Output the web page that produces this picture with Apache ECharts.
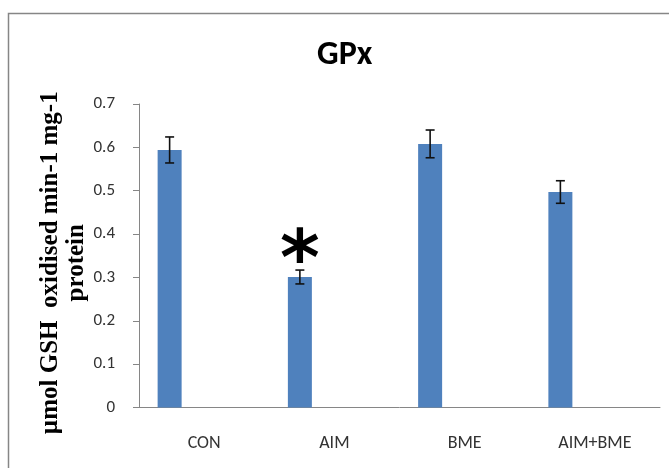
<!DOCTYPE html>
<html>
<head>
<meta charset="utf-8">
<script src="https://cdn.jsdelivr.net/npm/echarts@6/dist/echarts.min.js"></script>
<style>html,body{margin:0;padding:0;background:#fff;}#c{width:669px;height:468px;}</style>
</head>
<body>
<div id="c"></div>
<script>
const categories = ['CON', 'AIM', 'BME', 'AIM+BME'];
const means = [0.594, 0.301, 0.608, 0.497];
const errors = [0.030, 0.016, 0.032, 0.026];
const yTicks = [0, 0.1, 0.2, 0.3, 0.4, 0.5, 0.6, 0.7];
const starCategory = 'AIM';

const BAR_W = 24;
const GAP_PX = 45;
const OFFSET = -(BAR_W + GAP_PX) / 2;
const LABEL_FONT = 'Carlito, "Liberation Sans Narrow", Lato, sans-serif';

const chart = echarts.init(document.getElementById('c'), null, {renderer: 'canvas'});

const barData = means.map((v, i) => {
  if (categories[i] === starCategory) {
    return {
      value: v,
      label: {
        show: true, position: 'top', distance: 0, offset: [0, 25],
        formatter: '*', fontFamily: '"DejaVu Sans"', fontWeight: 'bold',
        fontSize: 76, color: '#000'
      }
    };
  }
  return v;
});

const errData = means.map((v, i) => [i, v - errors[i], v + errors[i]]);

chart.setOption({
  animation: false,
  backgroundColor: '#fff',
  title: {
    text: 'GPx', left: 312, top: 33,
    textStyle: {fontFamily: 'Carlito, Lato, sans-serif', fontWeight: 'bold', fontSize: 34, color: '#000'}
  },
  graphic: [{
    type: 'rect', silent: true,
    shape: {x: 8.5, y: 13.5, width: 720, height: 520},
    style: {fill: 'none', stroke: '#868686', lineWidth: 1.5}
  }],
  grid: {left: 139, right: 9, top: 104, bottom: 60.5},
  xAxis: {
    type: 'category', data: categories,
    axisLine: {lineStyle: {color: '#868686', width: 1}},
    axisTick: {show: false},
    axisLabel: {margin: 27, fontSize: 18, color: '#333', fontFamily: LABEL_FONT}
  },
  yAxis: {
    type: 'value', min: 0, max: 0.7, interval: 0.1,
    name: 'µmol GSH  oxidised min-1 mg-1\nprotein',
    nameLocation: 'middle', nameGap: 49, nameMoveOverlap: false,
    nameTextStyle: {fontFamily: '"Liberation Serif", serif', fontWeight: 'bold', fontSize: 25, lineHeight: 26, color: '#000', padding: [0, 14, 0, 0]},
    axisLine: {show: true, lineStyle: {color: '#868686', width: 1}},
    axisTick: {show: true, length: 6, lineStyle: {color: '#868686'}},
    splitLine: {show: false},
    axisLabel: {
      margin: 24, fontSize: 17, color: '#333', fontFamily: LABEL_FONT,
      formatter: v => {
        const t = yTicks.find(k => Math.abs(k - v) < 1e-9);
        return t === 0 ? '0' : String(t);
      }
    }
  },
  series: [
    {
      type: 'bar', name: 'GPx', data: barData, barWidth: BAR_W,
      barGap: (GAP_PX / BAR_W * 100) + '%',
      itemStyle: {color: '#4F81BD'}
    },
    {
      type: 'bar', name: 'empty', data: categories.map(() => null), barWidth: BAR_W
    },
    {
      type: 'custom', name: 'error', data: errData, z: 5,
      encode: {x: 0, y: [1, 2]},
      renderItem: (params, api) => {
        const idx = api.value(0);
        const lo = api.coord([idx, api.value(1)]);
        const hi = api.coord([idx, api.value(2)]);
        const x = lo[0] + OFFSET;
        const cap = 4.5;
        const st = {stroke: '#111', lineWidth: 1.6};
        return {
          type: 'group',
          children: [
            {type: 'line', shape: {x1: x, y1: lo[1], x2: x, y2: hi[1]}, style: st},
            {type: 'line', shape: {x1: x - cap, y1: lo[1], x2: x + cap, y2: lo[1]}, style: st},
            {type: 'line', shape: {x1: x - cap, y1: hi[1], x2: x + cap, y2: hi[1]}, style: st}
          ]
        };
      }
    }
  ]
});
</script>
</body>
</html>
